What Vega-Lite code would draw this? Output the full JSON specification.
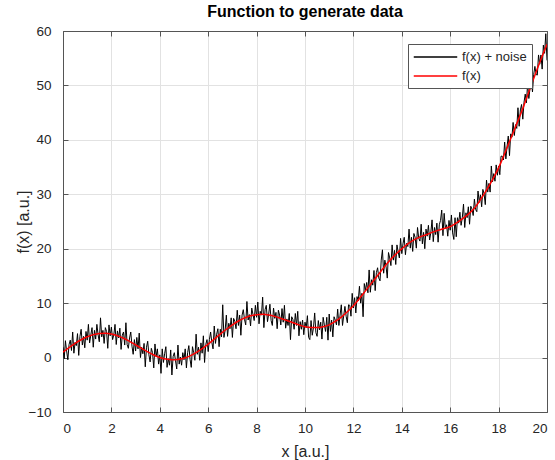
{
  "$schema": "https://vega.github.io/schema/vega-lite/v6.json",
  "width": 484,
  "height": 381,
  "autosize": "none",
  "padding": {"left": 63, "top": 31, "right": 8, "bottom": 48},
  "background": "white",
  "title": {"text": "Function to generate data", "fontSize": 16, "fontWeight": "bold", "font": "Liberation Sans", "color": "#000000", "offset": 4},
  "config": {
    "view": {"stroke": null},
    "axis": {
      "labelFont": "Liberation Sans", "labelFontSize": 13.5, "labelColor": "#262626",
      "titleFont": "Liberation Sans", "titleFontSize": 16, "titleFontWeight": "normal", "titleColor": "#262626",
      "domainColor": "#555555", "domainWidth": 1, "tickColor": "#555555", "tickSize": -5, "tickWidth": 1,
      "gridColor": "#e2e2e2", "gridWidth": 1
    },
    "legend": {
      "orient": "none", "legendX": 345, "legendY": 13,
      "strokeColor": "#555555", "fillColor": "white", "padding": 5,
      "symbolType": "M-1,0L5,0", "symbolSize": 210, "symbolStrokeWidth": 1.5, "symbolOffset": 0,
      "labelFont": "Liberation Sans", "labelFontSize": 13, "labelColor": "#262626",
      "labelOffset": 33, "rowPadding": 4, "columnPadding": 0, "titleFontSize": 0, "titlePadding": 0
    }
  },
  "datasets": {
    "noise": [
{"x":0,"y":1.9},{"x":0.05,"y":-0.2},{"x":0.1,"y":3.1},{"x":0.15,"y":1.2},{"x":0.2,"y":-0.4},{"x":0.25,"y":2.4},{"x":0.3,"y":3.2},{"x":0.35,"y":1.3},{"x":0.4,"y":4.7},{"x":0.45,"y":0.8},{"x":0.5,"y":2.8},{"x":0.55,"y":2.2},{"x":0.6,"y":4.4},{"x":0.65,"y":0.4},{"x":0.7,"y":3.9},{"x":0.75,"y":5.2},{"x":0.8,"y":2.3},{"x":0.85,"y":3.9},{"x":0.9,"y":1.8},{"x":0.95,"y":4.8},
{"x":1,"y":3.2},{"x":1.05,"y":6.1},{"x":1.1,"y":2.7},{"x":1.15,"y":4.2},{"x":1.2,"y":5.5},{"x":1.25,"y":1.9},{"x":1.3,"y":5.0},{"x":1.35,"y":3.4},{"x":1.4,"y":6.1},{"x":1.45,"y":4.2},{"x":1.5,"y":2.9},{"x":1.55,"y":7.3},{"x":1.6,"y":3.8},{"x":1.65,"y":5.0},{"x":1.7,"y":2.6},{"x":1.75,"y":5.5},{"x":1.8,"y":4.8},{"x":1.85,"y":1.7},{"x":1.9,"y":6.0},{"x":1.95,"y":4.0},
{"x":2,"y":5.6},{"x":2.05,"y":3.3},{"x":2.1,"y":4.2},{"x":2.15,"y":6.1},{"x":2.2,"y":2.4},{"x":2.25,"y":4.9},{"x":2.3,"y":3.6},{"x":2.35,"y":5.4},{"x":2.4,"y":1.5},{"x":2.45,"y":4.1},{"x":2.5,"y":4.7},{"x":2.55,"y":2.3},{"x":2.6,"y":6.4},{"x":2.65,"y":2.4},{"x":2.7,"y":1.7},{"x":2.75,"y":3.6},{"x":2.8,"y":4.7},{"x":2.85,"y":2.1},{"x":2.9,"y":0.6},{"x":2.95,"y":3.3},
{"x":3,"y":1.2},{"x":3.05,"y":3.7},{"x":3.1,"y":1.6},{"x":3.15,"y":4.5},{"x":3.2,"y":0.0},{"x":3.25,"y":1.9},{"x":3.3,"y":0.7},{"x":3.35,"y":2.6},{"x":3.4,"y":-1.7},{"x":3.45,"y":1.9},{"x":3.5,"y":3.0},{"x":3.55,"y":0.5},{"x":3.6,"y":-0.8},{"x":3.65,"y":1.7},{"x":3.7,"y":0.9},{"x":3.75,"y":-1.9},{"x":3.8,"y":2.5},{"x":3.85,"y":0.2},{"x":3.9,"y":1.6},{"x":3.95,"y":-1.2},
{"x":4,"y":0.5},{"x":4.05,"y":-2.9},{"x":4.1,"y":1.6},{"x":4.15,"y":-0.9},{"x":4.2,"y":0.7},{"x":4.25,"y":2.0},{"x":4.3,"y":-1.8},{"x":4.35,"y":-0.2},{"x":4.4,"y":-1.4},{"x":4.45,"y":1.4},{"x":4.5,"y":-3.2},{"x":4.55,"y":0.2},{"x":4.6,"y":0.9},{"x":4.65,"y":-0.6},{"x":4.7,"y":-2.1},{"x":4.75,"y":2.3},{"x":4.8,"y":-1.2},{"x":4.85,"y":0.1},{"x":4.9,"y":-1.4},{"x":4.95,"y":0.9},
{"x":5,"y":-0.4},{"x":5.05,"y":1.6},{"x":5.1,"y":-1.9},{"x":5.15,"y":0.9},{"x":5.2,"y":2.2},{"x":5.25,"y":-0.3},{"x":5.3,"y":-1.8},{"x":5.35,"y":2.0},{"x":5.4,"y":0.9},{"x":5.45,"y":-0.5},{"x":5.5,"y":4.3},{"x":5.55,"y":0.6},{"x":5.6,"y":1.9},{"x":5.65,"y":-0.5},{"x":5.7,"y":2.7},{"x":5.75,"y":0.8},{"x":5.8,"y":4.0},{"x":5.85,"y":-0.9},{"x":5.9,"y":2.4},{"x":5.95,"y":3.3},
{"x":6,"y":1.1},{"x":6.05,"y":3.3},{"x":6.1,"y":4.7},{"x":6.15,"y":2.8},{"x":6.2,"y":1.6},{"x":6.25,"y":5.8},{"x":6.3,"y":2.6},{"x":6.35,"y":4.3},{"x":6.4,"y":5.3},{"x":6.45,"y":2.0},{"x":6.5,"y":5.2},{"x":6.55,"y":3.8},{"x":6.6,"y":9.7},{"x":6.65,"y":3.7},{"x":6.7,"y":5.0},{"x":6.75,"y":7.8},{"x":6.8,"y":3.9},{"x":6.85,"y":6.3},{"x":6.9,"y":5.3},{"x":6.95,"y":7.3},
{"x":7,"y":3.7},{"x":7.05,"y":7.2},{"x":7.1,"y":6.7},{"x":7.15,"y":5.3},{"x":7.2,"y":8.7},{"x":7.25,"y":5.9},{"x":7.3,"y":7.8},{"x":7.35,"y":4.1},{"x":7.4,"y":7.8},{"x":7.45,"y":8.8},{"x":7.5,"y":7.0},{"x":7.55,"y":6.0},{"x":7.6,"y":10.3},{"x":7.65,"y":6.9},{"x":7.7,"y":7.9},{"x":7.75,"y":5.8},{"x":7.8,"y":9.1},{"x":7.85,"y":7.9},{"x":7.9,"y":6.8},{"x":7.95,"y":9.6},
{"x":8,"y":7.4},{"x":8.05,"y":10.2},{"x":8.1,"y":6.2},{"x":8.15,"y":8.5},{"x":8.2,"y":7.8},{"x":8.25,"y":11.1},{"x":8.3,"y":5.5},{"x":8.35,"y":8.8},{"x":8.4,"y":9.6},{"x":8.45,"y":6.6},{"x":8.5,"y":8.0},{"x":8.55,"y":9.8},{"x":8.6,"y":6.8},{"x":8.65,"y":5.9},{"x":8.7,"y":9.1},{"x":8.75,"y":7.2},{"x":8.8,"y":8.3},{"x":8.85,"y":5.3},{"x":8.9,"y":8.7},{"x":8.95,"y":7.8},
{"x":9,"y":6.0},{"x":9.05,"y":9.0},{"x":9.1,"y":6.5},{"x":9.15,"y":9.6},{"x":9.2,"y":5.4},{"x":9.25,"y":7.1},{"x":9.3,"y":5.9},{"x":9.35,"y":8.1},{"x":9.4,"y":3.3},{"x":9.45,"y":7.5},{"x":9.5,"y":7.0},{"x":9.55,"y":5.2},{"x":9.6,"y":8.1},{"x":9.65,"y":5.9},{"x":9.7,"y":8.5},{"x":9.75,"y":4.0},{"x":9.8,"y":6.6},{"x":9.85,"y":5.2},{"x":9.9,"y":6.9},{"x":9.95,"y":4.2},
{"x":10,"y":6.5},{"x":10.05,"y":5.5},{"x":10.1,"y":7.7},{"x":10.15,"y":3.7},{"x":10.2,"y":3.3},{"x":10.25,"y":6.8},{"x":10.3,"y":4.1},{"x":10.35,"y":5.5},{"x":10.4,"y":8.2},{"x":10.45,"y":4.6},{"x":10.5,"y":3.9},{"x":10.55,"y":6.8},{"x":10.6,"y":5.1},{"x":10.65,"y":6.5},{"x":10.7,"y":3.4},{"x":10.75,"y":7.4},{"x":10.8,"y":6.0},{"x":10.85,"y":4.8},{"x":10.9,"y":7.4},{"x":10.95,"y":3.2},
{"x":11,"y":8.0},{"x":11.05,"y":4.8},{"x":11.1,"y":6.9},{"x":11.15,"y":3.8},{"x":11.2,"y":7.5},{"x":11.25,"y":6.9},{"x":11.3,"y":6.0},{"x":11.35,"y":8.9},{"x":11.4,"y":5.9},{"x":11.45,"y":7.8},{"x":11.5,"y":9.7},{"x":11.55,"y":5.9},{"x":11.6,"y":7.7},{"x":11.65,"y":9.4},{"x":11.7,"y":7.6},{"x":11.75,"y":6.4},{"x":11.8,"y":9.7},{"x":11.85,"y":9.6},{"x":11.9,"y":7.6},{"x":11.95,"y":11.8},
{"x":12,"y":9.1},{"x":12.05,"y":11.0},{"x":12.1,"y":8.2},{"x":12.15,"y":11.2},{"x":12.2,"y":10.4},{"x":12.25,"y":13.1},{"x":12.3,"y":10.0},{"x":12.35,"y":11.8},{"x":12.4,"y":7.5},{"x":12.45,"y":13.6},{"x":12.5,"y":12.4},{"x":12.55,"y":13.8},{"x":12.6,"y":11.9},{"x":12.65,"y":16.1},{"x":12.7,"y":12.0},{"x":12.75,"y":14.3},{"x":12.8,"y":13.3},{"x":12.85,"y":16.0},{"x":12.9,"y":12.3},{"x":12.95,"y":15.6},
{"x":13,"y":16.5},{"x":13.05,"y":14.6},{"x":13.1,"y":14.1},{"x":13.15,"y":17.9},{"x":13.2,"y":19.8},{"x":13.25,"y":15.5},{"x":13.3,"y":17.9},{"x":13.35,"y":16.7},{"x":13.4,"y":14.6},{"x":13.45,"y":19.3},{"x":13.5,"y":18.3},{"x":13.55,"y":16.9},{"x":13.6,"y":20.7},{"x":13.65,"y":17.9},{"x":13.7,"y":19.7},{"x":13.75,"y":17.1},{"x":13.8,"y":20.7},{"x":13.85,"y":19.4},{"x":13.9,"y":18.3},{"x":13.95,"y":21.9},
{"x":14,"y":19.1},{"x":14.05,"y":20.9},{"x":14.1,"y":22.1},{"x":14.15,"y":18.9},{"x":14.2,"y":21.0},{"x":14.25,"y":20.4},{"x":14.3,"y":23.6},{"x":14.35,"y":20.1},{"x":14.4,"y":22.1},{"x":14.45,"y":19.5},{"x":14.5,"y":22.8},{"x":14.55,"y":22.1},{"x":14.6,"y":20.1},{"x":14.65,"y":23.9},{"x":14.7,"y":21.9},{"x":14.75,"y":21.4},{"x":14.8,"y":24.5},{"x":14.85,"y":20.9},{"x":14.9,"y":23.0},{"x":14.95,"y":20.0},
{"x":15,"y":23.6},{"x":15.05,"y":22.3},{"x":15.1,"y":24.3},{"x":15.15,"y":21.6},{"x":15.2,"y":23.0},{"x":15.25,"y":25.3},{"x":15.3,"y":21.3},{"x":15.35,"y":23.9},{"x":15.4,"y":22.6},{"x":15.45,"y":24.7},{"x":15.5,"y":21.2},{"x":15.55,"y":24.4},{"x":15.6,"y":25.2},{"x":15.65,"y":27.1},{"x":15.7,"y":22.4},{"x":15.75,"y":26.5},{"x":15.8,"y":23.7},{"x":15.85,"y":24.4},{"x":15.9,"y":22.3},{"x":15.95,"y":25.2},
{"x":16,"y":23.4},{"x":16.05,"y":26.2},{"x":16.1,"y":22.9},{"x":16.15,"y":21.7},{"x":16.2,"y":25.7},{"x":16.25,"y":22.2},{"x":16.3,"y":25.7},{"x":16.35,"y":24.7},{"x":16.4,"y":26.7},{"x":16.45,"y":24.3},{"x":16.5,"y":25.7},{"x":16.55,"y":28.2},{"x":16.6,"y":23.9},{"x":16.65,"y":26.6},{"x":16.7,"y":25.7},{"x":16.75,"y":27.7},{"x":16.8,"y":24.5},{"x":16.85,"y":27.8},{"x":16.9,"y":27.3},{"x":16.95,"y":26.1},
{"x":17,"y":29.1},{"x":17.05,"y":27.2},{"x":17.1,"y":26.8},{"x":17.15,"y":30.6},{"x":17.2,"y":28.5},{"x":17.25,"y":29.9},{"x":17.3,"y":27.7},{"x":17.35,"y":30.9},{"x":17.4,"y":30.1},{"x":17.45,"y":28.1},{"x":17.5,"y":32.6},{"x":17.55,"y":30.4},{"x":17.6,"y":32.0},{"x":17.65,"y":30.4},{"x":17.7,"y":35.2},{"x":17.75,"y":32.3},{"x":17.8,"y":33.8},{"x":17.85,"y":32.4},{"x":17.9,"y":35.4},{"x":17.95,"y":33.5},
{"x":18,"y":35.2},{"x":18.05,"y":33.6},{"x":18.1,"y":37.0},{"x":18.15,"y":37.0},{"x":18.2,"y":36.3},{"x":18.25,"y":39.6},{"x":18.3,"y":36.5},{"x":18.35,"y":38.8},{"x":18.4,"y":40.7},{"x":18.45,"y":37.1},{"x":18.5,"y":41.1},{"x":18.55,"y":40.5},{"x":18.6,"y":43.2},{"x":18.65,"y":40.8},{"x":18.7,"y":42.8},{"x":18.75,"y":42.1},{"x":18.8,"y":45.9},{"x":18.85,"y":42.5},{"x":18.9,"y":45.5},{"x":18.95,"y":46.5},
{"x":19,"y":43.8},{"x":19.05,"y":46.9},{"x":19.1,"y":48.4},{"x":19.15,"y":46.8},{"x":19.2,"y":50.4},{"x":19.25,"y":47.6},{"x":19.3,"y":49.6},{"x":19.35,"y":51.1},{"x":19.4,"y":48.8},{"x":19.45,"y":52.0},{"x":19.5,"y":53.5},{"x":19.55,"y":52.0},{"x":19.6,"y":51.9},{"x":19.65,"y":55.6},{"x":19.7,"y":53.9},{"x":19.75,"y":55.6},{"x":19.8,"y":53.0},{"x":19.85,"y":57.4},{"x":19.9,"y":55.9},{"x":19.95,"y":59.5},
{"x":20,"y":54.6}
    ],
    "fx": [
{"x":0,"y":1.00},{"x":0.25,"y":1.82},{"x":0.5,"y":2.59},{"x":0.75,"y":3.27},{"x":1,"y":3.82},{"x":1.25,"y":4.22},{"x":1.5,"y":4.44},{"x":1.75,"y":4.48},{"x":2,"y":4.33},{"x":2.25,"y":4.01},{"x":2.5,"y":3.56},{"x":2.75,"y":2.99},{"x":3,"y":2.34},{"x":3.25,"y":1.69},{"x":3.5,"y":1.05},{"x":3.75,"y":0.48},{"x":4,"y":0.02},{"x":4.25,"y":-0.28},{"x":4.5,"y":-0.42},{"x":4.75,"y":-0.37},{"x":5,"y":-0.14},{"x":5.25,"y":0.31},{"x":5.5,"y":0.91},{"x":5.75,"y":1.64},{"x":6,"y":2.47},{"x":6.25,"y":3.39},{"x":6.5,"y":4.32},{"x":6.75,"y":5.20},{"x":7,"y":6.00},{"x":7.25,"y":6.72},{"x":7.5,"y":7.28},{"x":7.75,"y":7.67},{"x":8,"y":7.88},{"x":8.25,"y":7.94},{"x":8.5,"y":7.83},{"x":8.75,"y":7.57},{"x":9,"y":7.20},{"x":9.25,"y":6.82},{"x":9.5,"y":6.41},{"x":9.75,"y":6.01},{"x":10,"y":5.68},{"x":10.25,"y":5.53},{"x":10.5,"y":5.52},{"x":10.75,"y":5.68},{"x":11,"y":6.01},{"x":11.25,"y":6.63},{"x":11.5,"y":7.43},{"x":11.75,"y":8.41},{"x":12,"y":9.50},{"x":12.25,"y":10.85},{"x":12.5,"y":12.26},{"x":12.75,"y":13.68},{"x":13,"y":15.07},{"x":13.25,"y":16.50},{"x":13.5,"y":17.82},{"x":13.75,"y":18.99},{"x":14,"y":19.98},{"x":14.25,"y":20.89},{"x":14.5,"y":21.62},{"x":14.75,"y":22.17},{"x":15,"y":22.56},{"x":15.25,"y":23.01},{"x":15.5,"y":23.38},{"x":15.75,"y":23.72},{"x":16,"y":24.05},{"x":16.25,"y":24.72},{"x":16.5,"y":25.48},{"x":16.75,"y":26.36},{"x":17,"y":27.43},{"x":17.25,"y":29.01},{"x":17.5,"y":30.77},{"x":17.75,"y":32.70},{"x":18,"y":34.86},{"x":18.25,"y":37.48},{"x":18.5,"y":40.20},{"x":18.75,"y":42.98},{"x":19,"y":45.76},{"x":19.25,"y":48.85},{"x":19.5,"y":51.88},{"x":19.75,"y":54.80},{"x":20,"y":57.55}
    ]
  },
  "layer": [
    {
      "data": {"name": "noise"},
      "mark": {"type": "line", "strokeWidth": 1, "clip": true},
      "encoding": {
        "x": {"field": "x", "type": "quantitative", "scale": {"domain": [0, 20], "nice": false},
              "axis": {"orient": "bottom", "values": [0,2,4,6,8,10,12,14,16,18,20], "title": "x [a.u.]", "grid": true, "labelPadding": 14, "titlePadding": 9}},
        "y": {"field": "y", "type": "quantitative", "scale": {"domain": [-10, 60], "nice": false},
              "axis": {"orient": "left", "values": [-10,0,10,20,30,40,50,60], "title": "f(x) [a.u.]", "grid": true, "labelPadding": 17, "titlePadding": -3}},
        "color": {"datum": "f(x) + noise", "type": "nominal",
                  "scale": {"domain": ["f(x) + noise", "f(x)"], "range": ["#000000", "#ff0000"]},
                  "legend": {"title": null}}
      }
    },
    {
      "data": {"name": "fx"},
      "mark": {"type": "line", "strokeWidth": 1.5, "interpolate": "monotone", "clip": true},
      "encoding": {
        "x": {"field": "x", "type": "quantitative", "scale": {"domain": [0, 20], "nice": false},
              "axis": {"orient": "top", "values": [0,2,4,6,8,10,12,14,16,18,20], "labels": false, "title": null, "grid": false}},
        "y": {"field": "y", "type": "quantitative", "scale": {"domain": [-10, 60], "nice": false},
              "axis": {"orient": "right", "values": [-10,0,10,20,30,40,50,60], "labels": false, "title": null, "grid": false}},
        "color": {"datum": "f(x)", "type": "nominal"}
      }
    }
  ],
  "resolve": {"axis": {"x": "independent", "y": "independent"}}
}
